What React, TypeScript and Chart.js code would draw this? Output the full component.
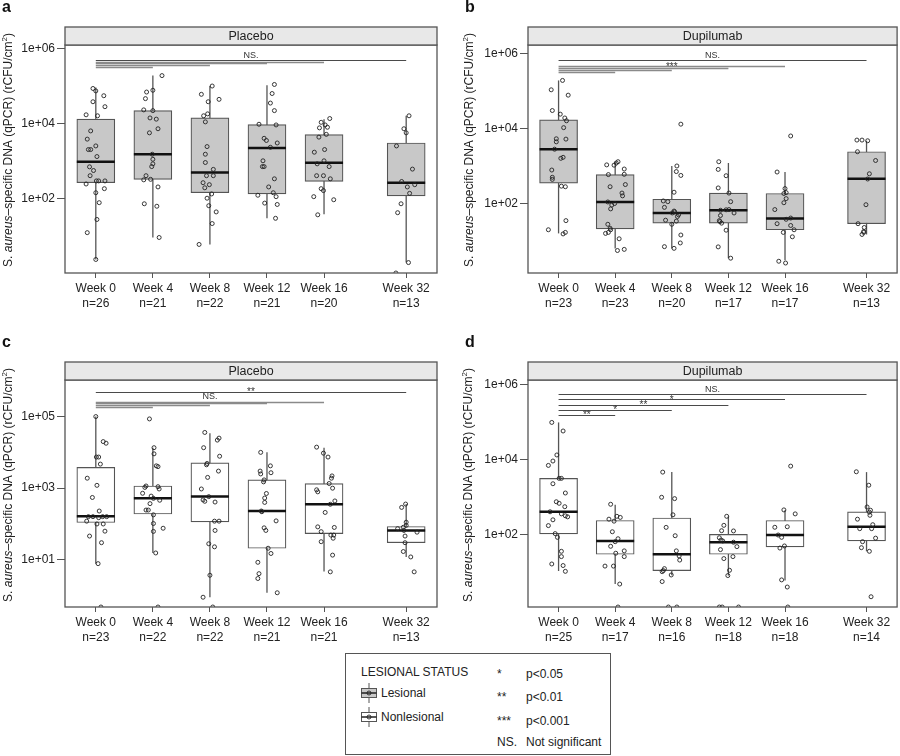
import React, { useEffect, useRef } from "react";
import { Chart, registerables } from "chart.js";
Chart.register(...registerables);

const FONT = "'Liberation Sans', Arial, Helvetica, sans-serif";

// ---------- shared categories ----------
const weekLabels = ["Week 0", "Week 4", "Week 8", "Week 12", "Week 16", "Week 32"];
const weekPositions = [1, 2, 3, 4, 5, 6.44];
const xAxisMin = 0.46;
const xAxisMax = 6.98;

const yTicks246 = [1e2, 1e4, 1e6];
const yTickLabels246 = ["1e+02", "1e+04", "1e+06"];
const yTicks135 = [1e1, 1e3, 1e5];
const yTickLabels135 = ["1e+01", "1e+03", "1e+05"];

const sigTo = [5, 4, 3, 2, 1];

// ---------- panel a: Placebo, lesional ----------
const nA = ["n=26", "n=21", "n=22", "n=21", "n=20", "n=13"];
const lowA = [2.3, 8.9, 5.8, 29, 37, 1.9];
const q1A = [260, 320, 140, 130, 280, 115];
const medA = [950, 1500, 490, 2200, 890, 260];
const q3A = [1.3e4, 2.2e4, 1.4e4, 9.3e3, 5.0e3, 3.0e3];
const highA = [9.1e4, 1.9e5, 1.0e5, 1.05e5, 1.3e4, 1.6e4];
const ptsA = [
  [[-0.05, 8.6e4], [0.0, 7.4e4], [0.14, 5.5e4], [-0.05, 3.8e4], [0.16, 2.8e4], [-0.17, 1.7e4], [0.03, 1.6e4], [-0.09, 6300], [-0.15, 3800], [-0.13, 2000], [-0.09, 2000], [0.0, 2500], [0.02, 1300], [-0.11, 690], [-0.04, 550], [-0.1, 400], [0.01, 290], [0.05, 290], [0.16, 290], [-0.17, 240], [0.15, 180], [0.0, 140], [0.06, 76], [0.02, 27], [-0.15, 12], [0.0, 2.3]],
  [[0.16, 1.9e5], [-0.11, 6.9e4], [0.0, 7.7e4], [-0.13, 4.6e4], [-0.16, 2.3e4], [0.0, 2.2e4], [-0.05, 1.4e4], [0.06, 1.3e4], [0.09, 7200], [-0.06, 5600], [-0.01, 1500], [0.0, 1100], [0.0, 830], [-0.02, 700], [-0.12, 400], [-0.16, 310], [-0.04, 320], [0.09, 200], [-0.15, 71], [0.07, 61], [0.11, 8.9]],
  [[0.04, 1.0e5], [-0.15, 6.0e4], [0.16, 4.4e4], [-0.03, 3.8e4], [-0.04, 1.8e4], [-0.11, 1.6e4], [-0.08, 1.1e4], [-0.05, 2400], [-0.08, 1500], [-0.08, 900], [0.06, 590], [-0.06, 400], [0.06, 400], [-0.12, 260], [-0.01, 230], [-0.09, 190], [0.03, 130], [-0.05, 100], [-0.02, 63], [0.11, 43], [0.04, 21], [-0.19, 5.8]],
  [[0.13, 1.1e5], [0.09, 6.3e4], [0.06, 3.5e4], [0.13, 2.2e4], [-0.14, 9500], [0.16, 9100], [-0.05, 4000], [0.18, 3000], [0.06, 2300], [-0.07, 1000], [-0.08, 700], [-0.05, 700], [0.13, 330], [0.11, 140], [-0.16, 120], [0.16, 110], [-0.04, 74], [0.18, 68], [0.15, 29], [-0.01, 3500], [0.03, 200]],
  [[0.1, 1.35e4], [-0.05, 1.07e4], [0.02, 9100], [-0.08, 7600], [0.06, 7900], [0.04, 5100], [-0.09, 4300], [0.01, 2000], [-0.17, 1700], [0.0, 1000], [-0.12, 830], [0.09, 700], [-0.01, 400], [-0.13, 400], [0.11, 330], [-0.05, 180], [-0.01, 160], [-0.18, 110], [0.17, 91], [-0.11, 36]],
  [[0.05, 1.6e4], [-0.04, 7200], [0.0, 5600], [-0.17, 2500], [0.11, 600], [-0.08, 280], [0.15, 230], [0.02, 200], [0.06, 135], [-0.09, 71], [-0.15, 41], [0.04, 1.9], [-0.18, 1.0]],
];
const sigYA = [4.97e5, 4.5e5, 4.06e5, 3.66e5, 3.23e5];
const sigLabelA = ["NS.", "", "", "", ""];

// ---------- panel b: Dupilumab, lesional ----------
const nB = ["n=23", "n=23", "n=20", "n=17", "n=17", "n=13"];
const lowB = [16, 6.3, 6.3, 3.5, 3.1, 15];
const q1B = [350, 21, 30, 30, 20, 29];
const medB = [2800, 110, 56, 66, 40, 460];
const q3B = [1.7e4, 590, 130, 190, 185, 2400];
const highB = [1.9e5, 1300, 1000, 1200, 690, 4700];
const ptsB = [
  [[0.07, 1.9e5], [-0.13, 1.07e5], [0.17, 7.7e4], [-0.11, 3.0e4], [0.03, 2.4e4], [0.11, 1.9e4], [0.14, 1.6e4], [0.09, 1.05e4], [-0.04, 5300], [0.13, 5200], [-0.04, 4400], [-0.07, 2800], [0.08, 1700], [0.04, 1600], [-0.12, 780], [-0.11, 500], [-0.11, 440], [0.05, 290], [0.12, 280], [0.13, 35], [-0.18, 20], [0.08, 15.5], [0.12, 17]],
  [[0.05, 1300], [-0.15, 1070], [-0.02, 1050], [0.02, 1200], [0.16, 830], [-0.12, 590], [0.16, 600], [0.18, 320], [-0.09, 280], [0.12, 190], [0.13, 160], [-0.13, 110], [-0.06, 91], [-0.08, 72], [-0.13, 28], [-0.09, 22], [-0.08, 20], [-0.12, 17], [-0.17, 16], [0.07, 11.5], [0.04, 5.6], [0.16, 6.0], [-0.01, 100]],
  [[0.16, 1.3e4], [0.09, 1000], [0.08, 710], [0.16, 560], [0.04, 200], [-0.15, 117], [-0.07, 112], [-0.13, 79], [0.04, 63], [0.05, 60], [0.12, 50], [-0.11, 36], [0.08, 34], [0.0, 28], [0.16, 14.5], [0.15, 8.9], [-0.13, 7.1], [0.04, 6.4], [0.01, 56], [0.1, 45]],
  [[-0.17, 1300], [-0.18, 810], [-0.04, 550], [-0.18, 260], [0.01, 190], [0.04, 112], [-0.14, 66], [-0.04, 68], [0.1, 56], [-0.14, 48], [-0.16, 35], [-0.12, 30], [-0.04, 19.5], [-0.18, 7], [0.04, 3.5], [0.01, 69], [-0.15, 33]],
  [[0.1, 6300], [-0.14, 690], [0.0, 250], [-0.02, 185], [0.02, 135], [-0.02, 105], [-0.18, 69], [0.1, 41], [0.02, 38], [-0.14, 29], [0.1, 26], [0.16, 20], [-0.03, 17], [0.13, 13], [-0.11, 2.9], [0.01, 2.6], [0.02, 195]],
  [[-0.17, 4900], [-0.08, 4900], [0.02, 4700], [-0.16, 2400], [0.16, 1400], [0.05, 620], [0.02, 450], [-0.01, 93], [-0.15, 29], [-0.04, 23], [-0.05, 18], [-0.08, 15], [-0.05, 17]],
];
const sigYB = [6.6e5, 4.5e5, 4.06e5, 3.66e5, 3.23e5];
const sigLabelB = ["NS.", "***", "", "", ""];

// ---------- panel c: Placebo, nonlesional ----------
const nC = ["n=23", "n=22", "n=22", "n=21", "n=21", "n=13"];
const lowC = [7.8, 15.5, 0.9, 1.2, 4.7, 12];
const q1C = [110, 190, 115, 21, 54, 30];
const medC = [165, 520, 590, 230, 355, 66];
const q3C = [3800, 1150, 5100, 1700, 1350, 85];
const highC = [1e5, 1.35e4, 3.4e4, 1.0e4, 1.35e4, 360];
const ptsC = [
  [[0.0, 1e5], [0.13, 2.0e4], [0.18, 1.8e4], [0.01, 7400], [0.05, 7400], [0.08, 4700], [-0.15, 1900], [0.02, 1200], [-0.06, 550], [0.06, 230], [-0.13, 160], [-0.05, 160], [0.05, 150], [0.12, 160], [0.19, 160], [-0.16, 120], [0.02, 100], [0.13, 100], [0.16, 63], [-0.11, 46], [0.1, 30], [0.04, 7.8], [0.09, 0.48]],
  [[-0.06, 8.6e4], [0.02, 1.35e4], [0.02, 9100], [0.06, 4200], [0.09, 4000], [-0.12, 1150], [-0.14, 1050], [0.09, 1100], [0.11, 950], [-0.18, 720], [0.01, 520], [0.12, 460], [-0.05, 370], [-0.12, 245], [-0.08, 245], [0.01, 180], [0.01, 103], [0.18, 76], [0.01, 62], [0.05, 15.5], [0.09, 0.48], [-0.03, 600]],
  [[-0.09, 3.6e4], [0.16, 2.5e4], [0.13, 2.2e4], [-0.11, 1.35e4], [0.17, 7800], [-0.05, 4900], [-0.06, 4500], [0.15, 3000], [-0.04, 2000], [-0.15, 950], [-0.02, 580], [-0.12, 470], [-0.09, 430], [0.09, 410], [0.08, 120], [0.16, 120], [0.09, 66], [-0.02, 28], [0.08, 23], [0.0, 3.7], [-0.12, 0.9], [0.05, 0.48]],
  [[-0.11, 1.0e4], [0.06, 4200], [-0.12, 3000], [0.07, 2700], [-0.11, 2500], [-0.05, 1700], [-0.06, 1500], [-0.01, 710], [-0.04, 530], [-0.04, 400], [-0.09, 220], [0.16, 122], [-0.05, 78], [-0.02, 66], [0.02, 21], [0.07, 15], [-0.16, 8.5], [-0.14, 4.1], [-0.16, 3.0], [0.18, 1.2], [-0.1, 230]],
  [[-0.13, 1.4e4], [-0.01, 9500], [0.07, 7400], [0.14, 2200], [0.13, 1900], [0.09, 1350], [0.15, 1000], [-0.13, 900], [-0.11, 790], [0.19, 440], [0.11, 355], [0.02, 210], [-0.11, 83], [0.18, 80], [-0.05, 61], [0.12, 49], [0.17, 49], [0.16, 40], [-0.05, 32], [0.15, 13.5], [0.11, 4.6]],
  [[-0.01, 360], [-0.08, 290], [0.0, 112], [-0.15, 74], [-0.05, 81], [0.0, 91], [-0.04, 66], [0.19, 59], [-0.02, 46], [-0.02, 30], [-0.05, 17], [0.08, 12], [0.14, 4.6]],
];
const sigYC = [4.8e5, 2.6e5, 2.37e5, 2.12e5, 1.9e5];
const sigLabelC = ["**", "NS.", "", "", ""];

// ---------- panel d: Dupilumab, nonlesional ----------
const nD = ["n=25", "n=17", "n=16", "n=18", "n=18", "n=14"];
const lowD = [10.7, 4.8, 8.3, 8.1, 6.0, 36];
const q1D = [105, 30, 11, 30, 47, 68];
const medD = [410, 68, 30, 63, 98, 163];
const q3D = [3200, 240, 280, 102, 240, 410];
const highD = [1.0e5, 630, 4700, 310, 450, 4700];
const ptsD = [
  [[-0.12, 1.0e5], [0.08, 5.9e4], [-0.03, 1.35e4], [-0.1, 9300], [-0.18, 7100], [0.01, 3200], [0.05, 3200], [-0.1, 2300], [0.12, 1300], [-0.04, 760], [0.01, 690], [0.11, 560], [-0.15, 410], [0.05, 360], [0.12, 320], [0.16, 300], [-0.1, 250], [-0.18, 175], [-0.06, 107], [-0.02, 85], [0.05, 36], [0.05, 26], [-0.12, 16.5], [0.08, 15], [0.12, 10.5]],
  [[-0.08, 650], [0.03, 310], [0.09, 290], [-0.11, 260], [-0.02, 230], [-0.05, 120], [0.05, 78], [0.0, 65], [-0.08, 49], [0.01, 32], [0.16, 37], [0.16, 26], [-0.18, 14.5], [-0.03, 14.5], [0.08, 4.8], [0.05, 1.17]],
  [[-0.16, 4700], [-0.18, 1000], [0.05, 920], [0.02, 340], [-0.1, 157], [0.06, 94], [0.08, 37], [0.13, 27], [0.14, 21], [-0.13, 12.4], [-0.15, 11], [-0.17, 10.3], [-0.01, 8.4], [-0.17, 5.6], [-0.06, 1.17], [0.09, 1.17]],
  [[-0.03, 310], [-0.08, 178], [-0.12, 128], [0.09, 126], [-0.16, 83], [-0.13, 72], [-0.1, 68], [0.09, 63], [0.15, 48], [-0.14, 40], [0.08, 26], [-0.08, 23], [0.02, 11.2], [-0.01, 8.1], [-0.16, 1.17], [-0.11, 1.17], [0.18, 1.17]],
  [[0.1, 6800], [-0.02, 460], [0.18, 360], [-0.18, 158], [0.04, 163], [-0.12, 98], [-0.06, 85], [-0.09, 44], [-0.01, 50], [-0.06, 6.2], [0.04, 4.0], [0.05, 1.17]],
  [[-0.18, 4800], [0.04, 2100], [0.01, 550], [0.07, 450], [0.05, 400], [0.06, 330], [-0.16, 260], [0.11, 185], [0.09, 145], [-0.12, 145], [0.16, 81], [-0.07, 65], [-0.09, 45], [0.05, 36], [0.08, 2.2]],
];
const sigYD = [5.75e5, 4.16e5, 2.99e5, 2.15e5, 1.58e5];
const sigLabelD = ["NS.", "*", "**", "*", "**"];

const yTitleParts = [
  { t: "S. ", style: "n" },
  { t: "aureus", style: "i" },
  { t: "\u2013specific DNA (qPCR) (rCFU/cm", style: "n" },
  { t: "2", style: "sup" },
  { t: ")", style: "n" },
];

type PanelCfg = {
  letter: string; strip: string; fill: string;
  left: number; top: number; w: number; h: number;
  padTop: number; padRight: number; yAxisW: number; xAxisH: number;
  yMin: number; yMax: number; yTicks: number[]; yTickLabels: string[];
  n: string[]; low: number[]; q1: number[]; med: number[]; q3: number[]; high: number[];
  pts: number[][][]; sigY: number[]; sigLabel: string[]; sigAllDark: boolean;
  titleX: number; titleY: number; letterX: number; letterY: number;
};

const panels: PanelCfg[] = [
  { letter: "a", strip: "Placebo", fill: "#c8c8c8", left: 0, top: 0, w: 450, h: 315, padTop: 45, padRight: 13, yAxisW: 65, xAxisH: 42,
    yMin: 1.0, yMax: 1.25e6, yTicks: yTicks246, yTickLabels: yTickLabels246, n: nA, low: lowA, q1: q1A, med: medA, q3: q3A, high: highA,
    pts: ptsA, sigY: sigYA, sigLabel: sigLabelA, sigAllDark: false, titleX: 9, titleY: 150, letterX: 2, letterY: 12 },
  { letter: "b", strip: "Dupilumab", fill: "#c8c8c8", left: 450, top: 0, w: 450, h: 315, padTop: 45, padRight: 1, yAxisW: 78, xAxisH: 42,
    yMin: 1.41, yMax: 1.67e6, yTicks: yTicks246, yTickLabels: yTickLabels246, n: nB, low: lowB, q1: q1B, med: medB, q3: q3B, high: highB,
    pts: ptsB, sigY: sigYB, sigLabel: sigLabelB, sigAllDark: false, titleX: 20, titleY: 150, letterX: 15, letterY: 12 },
  { letter: "c", strip: "Placebo", fill: "#ffffff", left: 0, top: 320, w: 450, h: 330, padTop: 60, padRight: 13, yAxisW: 65, xAxisH: 43,
    yMin: 0.48, yMax: 1.05e6, yTicks: yTicks135, yTickLabels: yTickLabels135, n: nC, low: lowC, q1: q1C, med: medC, q3: q3C, high: highC,
    pts: ptsC, sigY: sigYC, sigLabel: sigLabelC, sigAllDark: false, titleX: 9, titleY: 165, letterX: 2, letterY: 27 },
  { letter: "d", strip: "Dupilumab", fill: "#ffffff", left: 450, top: 320, w: 450, h: 330, padTop: 60, padRight: 1, yAxisW: 78, xAxisH: 43,
    yMin: 1.17, yMax: 1.36e6, yTicks: yTicks246, yTickLabels: yTickLabels246, n: nD, low: lowD, q1: q1D, med: medD, q3: q3D, high: highD,
    pts: ptsD, sigY: sigYD, sigLabel: sigLabelD, sigAllDark: true, titleX: 19, titleY: 165, letterX: 15, letterY: 27 },
];

function Panel({ cfg }: { cfg: PanelCfg }) {
  const ref = useRef<HTMLCanvasElement>(null);
  useEffect(() => {
    const canvas = ref.current!;
    const points = cfg.pts.flatMap((grp, i) => grp.map(([dx, v]) => ({ x: weekPositions[i] + dx, y: v })));
    const boxes = cfg.q1.map((q, i) => ({ x: weekPositions[i], y: [q, cfg.q3[i]] }));

    const decor: any = {
      id: "decor",
      beforeDatasetsDraw(chart: any) {
        const { ctx, chartArea: a } = chart;
        const xs = chart.scales.x, ys = chart.scales.y;
        ctx.save();
        ctx.beginPath();
        ctx.rect(a.left, a.top, a.right - a.left, a.bottom - a.top);
        ctx.clip();
        ctx.strokeStyle = "#555";
        ctx.lineWidth = 1.3;
        cfg.low.forEach((lo, i) => {
          const x = xs.getPixelForValue(weekPositions[i]);
          ctx.beginPath();
          ctx.moveTo(x, ys.getPixelForValue(lo));
          ctx.lineTo(x, ys.getPixelForValue(cfg.high[i]));
          ctx.stroke();
        });
        ctx.restore();
      },
      afterDatasetDraw(chart: any, args: any) {
        if (args.index !== 0) return;
        const { ctx } = chart;
        const ys = chart.scales.y;
        const meta = chart.getDatasetMeta(0);
        ctx.save();
        ctx.strokeStyle = "#111";
        ctx.lineWidth = 2.5;
        cfg.med.forEach((m, i) => {
          const el = meta.data[i];
          const y = ys.getPixelForValue(m);
          ctx.beginPath();
          ctx.moveTo(el.x - el.width / 2, y);
          ctx.lineTo(el.x + el.width / 2, y);
          ctx.stroke();
        });
        ctx.restore();
      },
      afterDraw(chart: any) {
        const { ctx, chartArea: a } = chart;
        const xs = chart.scales.x, ys = chart.scales.y;
        ctx.save();
        // significance lines
        const x0 = xs.getPixelForValue(weekPositions[0]);
        sigTo.forEach((to, j) => {
          const x1 = xs.getPixelForValue(weekPositions[to]);
          const y = Math.round(ys.getPixelForValue(cfg.sigY[j])) + 0.5;
          const dark = cfg.sigAllDark || j === 0;
          ctx.strokeStyle = dark ? "#4a4a4a" : "#8a8a8a";
          ctx.lineWidth = dark ? 1 : 1.4;
          ctx.beginPath();
          ctx.moveTo(x0, y);
          ctx.lineTo(x1, y);
          ctx.stroke();
        });
        sigTo.forEach((to, j) => {
          const label = cfg.sigLabel[j];
          if (!label) return;
          const x1 = xs.getPixelForValue(weekPositions[to]);
          const y = ys.getPixelForValue(cfg.sigY[j]);
          const star = label.indexOf("*") >= 0;
          ctx.font = `${star ? 10 : 9}px ${FONT}`;
          ctx.fillStyle = "#333";
          ctx.textAlign = "center";
          ctx.textBaseline = "alphabetic";
          const m = ctx.measureText(label);
          const target = y - (star ? 2.7 : 5.3);
          const base = target + (m.actualBoundingBoxAscent - m.actualBoundingBoxDescent) / 2;
          ctx.fillText(label, (x0 + x1) / 2, base);
        });
        // frame
        ctx.strokeStyle = "#555";
        ctx.lineWidth = 1.3;
        ctx.strokeRect(a.left, a.top, a.right - a.left, a.bottom - a.top);
        // strip header
        const sh = 18;
        ctx.fillStyle = "#e8e8e8";
        ctx.fillRect(a.left, a.top - sh, a.right - a.left, sh);
        ctx.strokeRect(a.left, a.top - sh, a.right - a.left, sh);
        ctx.fillStyle = "#222";
        ctx.font = `12.5px ${FONT}`;
        ctx.textAlign = "center";
        ctx.textBaseline = "middle";
        ctx.fillText(cfg.strip, (a.left + a.right) / 2, a.top - sh / 2 + 0.5);
        // y title
        ctx.translate(cfg.titleX, cfg.titleY);
        ctx.rotate(-Math.PI / 2);
        const fontFor = (s: string) => (s === "i" ? `italic 12px ${FONT}` : s === "sup" ? `8px ${FONT}` : `12px ${FONT}`);
        let total = 0;
        yTitleParts.forEach((p) => { ctx.font = fontFor(p.style); total += ctx.measureText(p.t).width; });
        let x = -total / 2;
        ctx.textAlign = "left";
        ctx.textBaseline = "middle";
        ctx.fillStyle = "#222";
        yTitleParts.forEach((p) => {
          ctx.font = fontFor(p.style);
          ctx.fillText(p.t, x, p.style === "sup" ? -4 : 0);
          x += ctx.measureText(p.t).width;
        });
        ctx.setTransform(1, 0, 0, 1, 0, 0);
        // panel letter
        ctx.font = `bold 16px ${FONT}`;
        ctx.fillStyle = "#111";
        ctx.textAlign = "left";
        ctx.textBaseline = "alphabetic";
        ctx.fillText(cfg.letter, cfg.letterX, cfg.letterY);
        ctx.restore();
      },
    };

    const chart = new Chart(canvas, {
      type: "bar",
      data: {
        datasets: [
          {
            type: "bar",
            data: boxes as any,
            backgroundColor: cfg.fill,
            borderColor: "#555",
            borderWidth: 1.2,
            borderSkipped: false,
            barThickness: 38,
            order: 2,
          } as any,
          {
            type: "scatter",
            data: points,
            pointRadius: 2,
            pointHoverRadius: 2,
            pointBorderWidth: 0.9,
            borderColor: "#222",
            pointBorderColor: "#222",
            backgroundColor: "rgba(0,0,0,0)",
            pointBackgroundColor: "rgba(0,0,0,0)",
            order: 1,
            clip: 0,
          } as any,
        ],
      },
      options: {
        responsive: false,
        maintainAspectRatio: false,
        animation: false,
        devicePixelRatio: 1,
        events: [],
        layout: { padding: { left: 0, top: cfg.padTop, right: cfg.padRight, bottom: 0 } },
        plugins: { legend: { display: false }, tooltip: { enabled: false }, title: { display: false } },
        scales: {
          x: {
            type: "linear",
            offset: false,
            min: xAxisMin,
            max: xAxisMax,
            afterBuildTicks: (s: any) => { s.ticks = weekPositions.map((v) => ({ value: v })); },
            afterFit: (s: any) => { s.height = cfg.xAxisH; },
            grid: { offset: false, drawOnChartArea: false, drawTicks: true, tickLength: 5, color: "#555", tickColor: "#555" },
            border: { display: false },
            ticks: {
              autoSkip: false, maxRotation: 0, minRotation: 0, padding: 3, color: "#222",
              font: { family: FONT, size: 12, lineHeight: 1.25 },
              callback: (_v: any, i: number) => [weekLabels[i], cfg.n[i]],
            },
          },
          y: {
            type: "logarithmic",
            min: cfg.yMin,
            max: cfg.yMax,
            afterBuildTicks: (s: any) => { s.ticks = cfg.yTicks.map((v) => ({ value: v })); },
            afterFit: (s: any) => { s.width = cfg.yAxisW; },
            grid: { drawOnChartArea: false, drawTicks: true, tickLength: 8, color: "#555", tickColor: "#555" },
            border: { display: false },
            ticks: {
              padding: 2, color: "#222", font: { family: FONT, size: 12 },
              callback: (_v: any, i: number) => cfg.yTickLabels[i],
            },
          },
        },
      } as any,
      plugins: [decor],
    });
    return () => chart.destroy();
  }, [cfg]);
  return (
    <canvas
      ref={ref}
      width={cfg.w}
      height={cfg.h}
      style={{ position: "absolute", left: cfg.left, top: cfg.top, width: cfg.w, height: cfg.h }}
    />
  );
}

function BoxIcon({ fill, cy }: { fill: string; cy: number }) {
  return (
    <svg width={22} height={22} style={{ position: "absolute", left: 358, top: cy - 11 }}>
      <line x1={11} y1={1} x2={11} y2={21} stroke="#555" strokeWidth={1} />
      <rect x={3.5} y={6.5} width={15} height={9} fill={fill} stroke="#555" strokeWidth={1} />
      <line x1={3.5} y1={11} x2={18.5} y2={11} stroke="#222" strokeWidth={1.5} />
      <circle cx={11} cy={11} r={2} fill="none" stroke="#222" strokeWidth={0.9} />
    </svg>
  );
}

const legendLeft = ["LESIONAL STATUS", "Lesional", "Nonlesional"];
const legendSym = ["*", "**", "***", "NS."];
const legendMeaning = ["p<0.05", "p<0.01", "p<0.001", "Not significant"];

function Legend() {
  const txt = (s: string, left: number, cy: number, key: string) => (
    <div key={key} style={{ position: "absolute", left, top: cy - 7, fontSize: 12, lineHeight: "14px", fontFamily: FONT, color: "#222", whiteSpace: "nowrap" }}>{s}</div>
  );
  const symY = [674, 697, 721, 742];
  return (
    <>
      <div style={{ position: "absolute", left: 345, top: 653, width: 264, height: 100, border: "1px solid #555", background: "#fff" }} />
      {txt(legendLeft[0], 361, 672, "l0")}
      <BoxIcon fill="#c8c8c8" cy={693} />
      {txt(legendLeft[1], 381, 693, "l1")}
      <BoxIcon fill="#ffffff" cy={717} />
      {txt(legendLeft[2], 381, 717, "l2")}
      {legendSym.map((s, i) => txt(s, 497, symY[i], "s" + i))}
      {legendMeaning.map((s, i) => txt(s, 526, symY[i], "m" + i))}
    </>
  );
}

export default function App() {
  return (
    <div style={{ position: "absolute", left: 0, top: 0, width: 900, height: 756, background: "#fff", overflow: "hidden" }}>
      {panels.map((p) => <Panel key={p.letter} cfg={p} />)}
      <Legend />
    </div>
  );
}
